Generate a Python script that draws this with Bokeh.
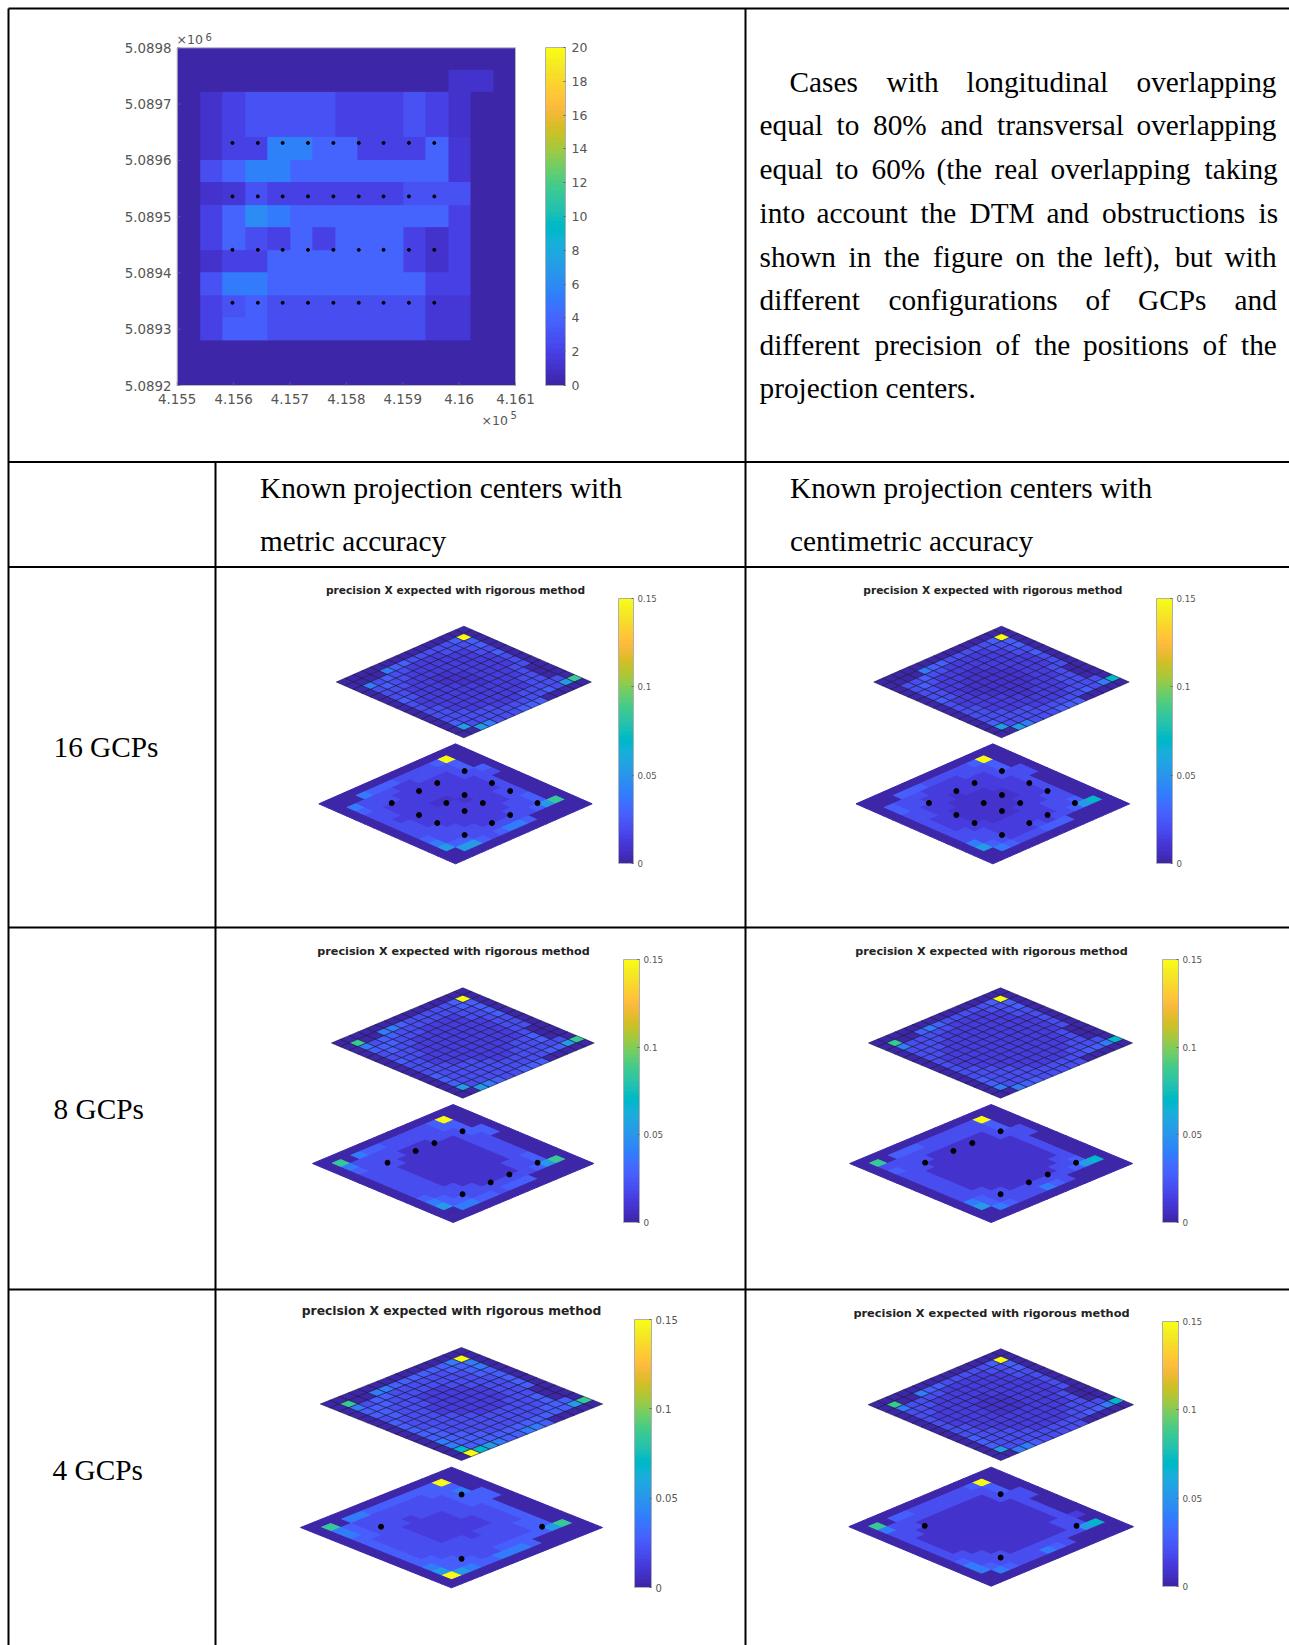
from bokeh.plotting import figure
from bokeh.embed import file_html
from bokeh.resources import INLINE
from bokeh.core.properties import value
from bokeh.models import (Range1d, ColumnDataSource, LinearColorMapper, ColorBar, FixedTicker)
import numpy as np

# ---------- data ----------
HEAT_X_LIMITS = [415500, 416100]
HEAT_Y_LIMITS = [5089200, 5089800]
# overlap counts, top row first
HEAT_ROWS = [
    [0,0,0,0,0,0,0,0,0,0,0,0,0,0,0],
    [0,0,0,0,0,0,0,0,0,0,0,0,1,1,0],
    [0,1,2,3,3,3,3,2,2,2,3,2,1,0,0],
    [0,1,2,3,3,3,3,2,2,2,3,2,1,0,0],
    [0,1,2,2,5.5,5.5,4,4,2,2,2,4,1.5,0,0],
    [0,2.5,4,5.5,5.5,4,4,4,4,4,4,4,1.5,0,0],
    [0,1,1.5,3,2,2,2,2,2,2,3,3,3,0,0],
    [0,2,4,6,5,4,4,4,4,4,4,4,2,0,0],
    [0,2,4,2.5,2,4,2,4,4,4,2,1,2,0,0],
    [0,1,2,2,4,4,4,4,4,4,2,1,2,0,0],
    [0,3,5,5,4,4,4,4,4,4,4,2,2,0,0],
    [0,2,3,3.5,2.5,2.5,2.5,2.5,2.5,2.5,2.5,1.5,1.5,0,0],
    [0,2,3.5,3.5,2.5,2.5,2.5,2.5,2.5,2.5,2.5,1.5,1.5,0,0],
    [0,0,0,0,0,0,0,0,0,0,0,0,0,0,0],
    [0,0,0,0,0,0,0,0,0,0,0,0,0,0,0],
]
HEAT_DOT_X = [415598, 415643, 415687, 415732, 415777, 415822, 415866, 415911, 415956]
HEAT_DOT_Y = [5089631, 5089536, 5089441, 5089347]
HEAT_X_TICKS = [415500, 415600, 415700, 415800, 415900, 416000, 416100]
HEAT_X_LABELS = ["4.155", "4.156", "4.157", "4.158", "4.159", "4.16", "4.161"]
HEAT_Y_TICKS = [5089200, 5089300, 5089400, 5089500, 5089600, 5089700, 5089800]
HEAT_Y_LABELS = ["5.0892", "5.0893", "5.0894", "5.0895", "5.0896", "5.0897", "5.0898"]
HEAT_CBAR_TICKS = [0, 2, 4, 6, 8, 10, 12, 14, 16, 18, 20]

# precision classes used by the iso-grids below
LEVELS = [0.001, 0.008, 0.014, 0.021, 0.028, 0.038, 0.052, 0.068, 0.085, 0.15]

A1_TOP = ["000000000000080","094434333000360","043332223333330","033222222233340","033222222222330",
          "032222222222334","032222111222234","032221112222234","042221122222233","043222222222333",
          "053322222222333","004332222223335","003433322333336","005333433333460","000000000000000"]
A1_BOT = ["000000000000000","000043000000800","094433333344600","043332223333400","033222222233300",
          "033222222223340","033222212222350","032222122222350","042222122222340","043222222223330",
          "043322222233340","053322222333460","003333233333460","005433333345600","000000000000000"]
B1_TOP = ["000000000000070","094434333000350","043332223333330","033222222233340","032222222222330",
          "032222111222234","032221111122234","032211111112234","042211111122233","043221111222333",
          "053222112222333","004322222223335","003433322333336","003333433333460","000000000000000"]
B1_BOT = ["000000000000000","000033000000700","094433333334600","043332222333400","033222222233300",
          "033222112222340","032221111222240","032221111122340","032211111122230","042221111122230",
          "043222111222230","043322222233340","003333222333450","004433333335600","000000000000000"]
A2_TOP = ["000000000000080","094444333000360","044333333344340","033332222233340","033222222233330",
          "033222222223334","033222222222334","033222222222334","043322222223333","053322222233333",
          "054332222233334","004433322333335","003443333333336","085433433344460","000000000000000"]
A2_BOT = ["000000000000000","000044000000800","094443333344600","044333333333400","033311111133300",
          "033311111111340","033111111111340","033111111111340","033111111111330","043311111113340",
          "043331111133340","053333333333450","003333333334450","085433333345600","000000000000000"]
B2_TOP = ["000000000000070","094433333000350","043332222333340","033222222223340","032222222222330",
          "032222222222233","032222222222233","032222222222233","043222222222233","053222222222333",
          "043322222223334","003332222233334","003333222333335","085333333334450","000000000000000"]
B2_BOT = ["000000000000000","000033000000700","094433333334600","033331111133400","033111111113300",
          "033111111111330","033111111111340","033111111111350","033111111111330","043111111111330",
          "043311111113330","043331111133340","003333333334450","083433333335600","000000000000000"]
A3_TOP = ["000000000000080","095544444000460","054443333344440","044333333333440","043333222333340",
          "043332222233344","043322222233345","043322222233345","043322222333344","053333223333344",
          "054333333333445","004433333334446","003444333444447","085443444445579","000000000000000"]
A3_BOT = ["000000000000000","000044000000800","094544444444600","044444333344400","044333333333400",
          "043333322333440","043332222333450","043332222233450","043322222333350","043332222333340",
          "053333333333440","053333333334450","004443333344460","085544444445690","000000000000000"]
B3_TOP = ["000000000000070","094433333000350","043332222333340","033222222223340","032222222222330",
          "032222222222233","032222111222233","032221111222233","042222111222233","043222222222333",
          "053222222223334","003322222233335","003332223333335","085333333344460","000000000000000"]
B3_BOT = ["000000000000000","000033000020700","094433333333600","043331111133300","033111111111300",
          "033111111111330","033111111111340","033111111111350","033111111111330","033111111111330",
          "043111111113330","043311111133340","003331111333450","085333333345500","000000000000000"]

GCP_A_16 = [3.9, 6.9, 8.9, 11.9]
GCP_A_8 = [3.9, 11.9]
GCP_B_FULL = [2.9, 5.9, 7.9, 10.9]
GCP_B_4 = [2.9, 10.9]

PARA_LINES = [
    (81.3, [("Cases", 789), ("with", 886), ("longitudinal", 966), ("overlapping", 1136)]),
    (124.6, [("equal", 759), ("to", 836), ("80%", 872.5), ("and", 940), ("transversal", 996.5), ("overlapping", 1136)]),
    (168.9, [("equal", 759), ("to", 835), ("60%", 871), ("(the", 936), ("real", 994), ("overlapping", 1050), ("taking", 1204)]),
    (212.6, [("into", 759), ("account", 816), ("the", 920), ("DTM", 969), ("and", 1046), ("obstructions", 1101.5), ("is", 1258)]),
    (256.6, [("shown", 759), ("in", 848), ("the", 883.5), ("figure", 932.5), ("on", 1015), ("the", 1056.5), ("left),", 1103.5), ("but", 1174.5), ("with", 1224)]),
    (299.6, [("different", 759), ("configurations", 888), ("of", 1085), ("GCPs", 1137.5), ("and", 1234)]),
    (344.6, [("different", 759), ("precision", 874), ("of", 995), ("the", 1034), ("positions", 1082.5), ("of", 1202), ("the", 1240.5)]),
    (387.6, [("projection", 759), ("centers.", 885)]),
]
HEADERS = [(259.5, 487.5, "Known projection centers with"), (259.5, 540.8, "metric accuracy"),
           (789.5, 487.5, "Known projection centers with"), (789.5, 540.8, "centimetric accuracy")]
ROW_LABELS = [(53, 746.5, "16 GCPs"), (53, 1108.5, "8 GCPs"), (52, 1469.5, "4 GCPs")]
TITLE = "precision X expected with rigorous method"

# ---------- colours ----------
PARULA_RGB = [
(0.2422,0.1504,0.6603),(0.2504,0.1650,0.7076),(0.2578,0.1818,0.7511),(0.2647,0.1978,0.7952),(0.2706,0.2147,0.8364),
(0.2751,0.2342,0.8710),(0.2783,0.2559,0.8991),(0.2803,0.2782,0.9221),(0.2813,0.3006,0.9414),(0.2810,0.3228,0.9579),
(0.2795,0.3447,0.9717),(0.2760,0.3667,0.9829),(0.2699,0.3892,0.9906),(0.2602,0.4123,0.9952),(0.2440,0.4358,0.9988),
(0.2206,0.4603,0.9973),(0.1963,0.4847,0.9892),(0.1834,0.5074,0.9798),(0.1786,0.5289,0.9682),(0.1764,0.5499,0.9520),
(0.1687,0.5703,0.9359),(0.1540,0.5902,0.9218),(0.1460,0.6091,0.9079),(0.1380,0.6276,0.8973),(0.1248,0.6459,0.8883),
(0.1113,0.6635,0.8763),(0.0952,0.6798,0.8598),(0.0689,0.6948,0.8394),(0.0297,0.7082,0.8163),(0.0036,0.7203,0.7917),
(0.0067,0.7312,0.7660),(0.0433,0.7411,0.7394),(0.0964,0.7500,0.7120),(0.1408,0.7584,0.6842),(0.1717,0.7670,0.6554),
(0.1938,0.7758,0.6251),(0.2161,0.7843,0.5923),(0.2470,0.7918,0.5567),(0.2906,0.7973,0.5188),(0.3406,0.8008,0.4789),
(0.3909,0.8029,0.4354),(0.4456,0.8024,0.3909),(0.5044,0.7993,0.3480),(0.5616,0.7942,0.3045),(0.6174,0.7876,0.2612),
(0.6720,0.7793,0.2227),(0.7242,0.7698,0.1910),(0.7738,0.7598,0.1646),(0.8203,0.7498,0.1535),(0.8634,0.7406,0.1596),
(0.9035,0.7330,0.1774),(0.9393,0.7288,0.2100),(0.9728,0.7309,0.2394),(0.9956,0.7434,0.2371),(0.9970,0.7659,0.2199),
(0.9952,0.7893,0.2028),(0.9892,0.8136,0.1885),(0.9786,0.8386,0.1766),(0.9676,0.8639,0.1643),(0.9610,0.8890,0.1537),
(0.9597,0.9135,0.1423),(0.9628,0.9373,0.1265),(0.9691,0.9606,0.1064),(0.9769,0.9839,0.0805)]
PARULA = ["#%02x%02x%02x" % tuple(int(round(c * 255)) for c in rgb) for rgb in PARULA_RGB]

# ---------- page ----------
W, H = 1289, 1645
p = figure(width=W, height=H, output_backend="svg", toolbar_location=None,
           x_range=Range1d(0, W), y_range=Range1d(H, 0), min_border=0,
           outline_line_color=None, background_fill_color="white")
p.axis.visible = False
p.grid.visible = False

# table rules
h_rules = [(8, W, 8), (8, W, 461.5), (8, W, 566.5), (8, W, 927), (8, W, 1289)]
v_rules = [(8, 8, H), (215, 461.5, H), (745, 8, H)]
p.segment(x0=[r[0] for r in h_rules], x1=[r[1] for r in h_rules], y0=[r[2] for r in h_rules], y1=[r[2] for r in h_rules],
          line_color="black", line_width=2)
p.segment(x0=[r[0] for r in v_rules], x1=[r[0] for r in v_rules], y0=[r[1] for r in v_rules], y1=[r[2] for r in v_rules],
          line_color="black", line_width=2)

SERIF = value("Liberation Serif")
def serif_text(xs, ys, texts, size="29.3px"):
    p.text(x=xs, y=ys, text=texts, text_font=SERIF, text_font_size=size, text_color="black",
           text_baseline="alphabetic", text_align="left")

for y, words in PARA_LINES:
    serif_text([w[1] for w in words], [y] * len(words), [w[0] for w in words])
serif_text([h[0] for h in HEADERS], [h[1] for h in HEADERS], [h[2] for h in HEADERS])
serif_text([r[0] for r in ROW_LABELS], [r[1] for r in ROW_LABELS], [r[2] for r in ROW_LABELS])

# ---------- top-left heat map, on its own ranges ----------
GREY = "#555555"
SANS = value("DejaVu Sans")
px_l, px_r, px_t, px_b = 176.7, 515.0, 47.3, 385.0
sx = (HEAT_X_LIMITS[1] - HEAT_X_LIMITS[0]) / (px_r - px_l)
sy = (HEAT_Y_LIMITS[1] - HEAT_Y_LIMITS[0]) / (px_b - px_t)
p.extra_x_ranges["hx"] = Range1d(HEAT_X_LIMITS[0] - px_l * sx, HEAT_X_LIMITS[1] + (W - px_r) * sx)
p.extra_y_ranges["hy"] = Range1d(HEAT_Y_LIMITS[0] - (H - px_b) * sy, HEAT_Y_LIMITS[1] + px_t * sy)
heat_mapper = LinearColorMapper(palette=PARULA, low=0, high=20)
p.image(image=[np.array(HEAT_ROWS[::-1], dtype=float)], x=HEAT_X_LIMITS[0], y=HEAT_Y_LIMITS[0],
        dw=HEAT_X_LIMITS[1] - HEAT_X_LIMITS[0], dh=HEAT_Y_LIMITS[1] - HEAT_Y_LIMITS[0],
        color_mapper=heat_mapper, x_range_name="hx", y_range_name="hy")
p.quad(left=[HEAT_X_LIMITS[0]], right=[HEAT_X_LIMITS[1]], top=[HEAT_Y_LIMITS[1]], bottom=[HEAT_Y_LIMITS[0]],
       fill_color=None, line_color="#b8b8b8", line_width=1, x_range_name="hx", y_range_name="hy")
dxs = [x for _ in HEAT_DOT_Y for x in HEAT_DOT_X]
dys = [y for y in HEAT_DOT_Y for _ in HEAT_DOT_X]
p.scatter(x=dxs, y=dys, size=3, color="black", x_range_name="hx", y_range_name="hy")
p.text(x=HEAT_X_TICKS, y=[HEAT_Y_LIMITS[0] - 15] * 7, text=HEAT_X_LABELS, text_font=SANS, text_font_size="13.4px",
       text_color=GREY, text_align="center", text_baseline="top", x_range_name="hx", y_range_name="hy")
p.text(x=[HEAT_X_LIMITS[0] - 10] * 7, y=HEAT_Y_TICKS, text=HEAT_Y_LABELS, text_font=SANS, text_font_size="13.4px",
       text_color=GREY, text_align="right", text_baseline="middle", x_range_name="hx", y_range_name="hy")
p.segment(x0=HEAT_X_TICKS, x1=HEAT_X_TICKS, y0=[HEAT_Y_LIMITS[0]] * 7, y1=[HEAT_Y_LIMITS[0] + 6] * 7,
          line_color="#777777", line_width=0.6, x_range_name="hx", y_range_name="hy")
p.segment(x0=[HEAT_X_LIMITS[0]] * 7, x1=[HEAT_X_LIMITS[0] + 6] * 7, y0=HEAT_Y_TICKS, y1=HEAT_Y_TICKS,
          line_color="#777777", line_width=0.6, x_range_name="hx", y_range_name="hy")
# exponent marks
p.text(x=[176, 481], y=[39, 420], text=["\u00d710", "\u00d710"], text_font=SANS, text_font_size="12.5px", text_color=GREY,
       text_baseline="alphabetic")
p.text(x=[205, 510], y=[36, 414], text=["6", "5"], text_font=SANS, text_font_size="10px", text_color=GREY,
       text_baseline="alphabetic")

def colorbar(mapper, ticks, labels, x0, x1, y0, y1, size, standoff=4):
    bar = ColorBar(color_mapper=mapper, ticker=FixedTicker(ticks=ticks),
                   major_label_overrides=labels,
                   location=(round(x0), round(H - y1)), width=int(round(x1 - x0)), height=int(round(y1 - y0)),
                   padding=0, margin=0,
                   background_fill_alpha=0, border_line_color=None, bar_line_color="#b0b0b0", bar_line_width=1,
                   major_tick_line_color="#666666", major_tick_in=2, major_tick_out=0, minor_tick_line_color=None,
                   major_label_text_font="DejaVu Sans", major_label_text_font_size=size,
                   major_label_text_color=GREY, label_standoff=standoff, scale_alpha=1)
    p.add_layout(bar, "center")

colorbar(heat_mapper, HEAT_CBAR_TICKS, {t: str(t) for t in HEAT_CBAR_TICKS}, 545.3, 565.7, 46.7, 385, "12.5px", 6)

# ---------- iso panels ----------
iso_mapper = LinearColorMapper(palette=PARULA, low=0, high=0.15)
ISO_TICKS = [0, 0.05, 0.1, 0.15]

def cell_polys(grid, left, right, top_x, y_top, y_bot):
    hx = (right - left) / 30.0
    hy = (y_bot - y_top) / 30.0
    xs, ys, vals = [], [], []
    for b, row in enumerate(grid):
        for a, ch in enumerate(row):
            corner = [(a, b), (a + 1, b), (a + 1, b + 1), (a, b + 1)]
            xs.append([top_x + (i - j) * hx for i, j in corner])
            ys.append([y_top + (i + j) * hy for i, j in corner])
            vals.append(LEVELS[int(ch)])
    return xs, ys, vals

PANELS = [
    dict(top=A1_TOP, bot=A1_BOT, ox=300, oy=570, t=(110, 875, 490, 167, 502), b=(55, 875, 465, 520, 880),
         cb=(955, 1000, 82, 878), title=(465, 60, 10.65), lab="8.6px", ga=GCP_A_16, gb=GCP_B_FULL),
    dict(top=B1_TOP, bot=B1_BOT, ox=840, oy=570, t=(102, 868, 483, 167, 502), b=(47, 868, 457, 520, 880),
         cb=(948, 995, 82, 878), title=(457, 60, 10.65), lab="8.6px", ga=GCP_A_16, gb=GCP_B_FULL),
    dict(top=A2_TOP, bot=A2_BOT, ox=300, oy=930, t=(93, 881, 487, 172, 503), b=(37, 881, 458, 522, 876),
         cb=(968, 1016, 88, 877), title=(459, 63, 11.2), lab="8.8px", ga=GCP_A_8, gb=GCP_B_FULL),
    dict(top=B2_TOP, bot=B2_BOT, ox=840, oy=930, t=(85, 877, 480, 172, 503), b=(28, 877, 452, 522, 876),
         cb=(965, 1013, 88, 877), title=(453, 63, 11.2), lab="8.8px", ga=GCP_A_8, gb=GCP_B_FULL),
    dict(top=A3_TOP, bot=A3_BOT, ox=290, oy=1295, t=(90, 937, 513, 156, 495), b=(30, 936, 483, 515, 877),
         cb=(1033, 1085, 72, 877), title=(483, 45, 12.3), lab="10px", ga=GCP_A_8, gb=GCP_B_4),
    dict(top=B3_TOP, bot=B3_BOT, ox=840, oy=1295, t=(83, 879, 481, 160, 495), b=(25, 879, 452, 515, 872),
         cb=(967, 1014, 77, 873), title=(453, 52, 11.35), lab="8.8px", ga=GCP_A_8, gb=GCP_B_4),
]

for P in PANELS:
    zx = lambda v: P["ox"] + v / 3.0
    zy = lambda v: P["oy"] + v / 3.0
    cm = {"field": "v", "transform": iso_mapper}
    # upper surface with dark edges
    l, r, tx, yt, yb = P["t"]
    xs, ys, vals = cell_polys(P["top"], zx(l), zx(r), zx(tx), zy(yt), zy(yb))
    p.patches(xs="xs", ys="ys", source=ColumnDataSource(dict(xs=xs, ys=ys, v=vals)), fill_color=cm,
              line_color="#14143c", line_width=0.8, line_alpha=0.75)
    # lower flat image
    l, r, tx, yt, yb = P["b"]
    xs, ys, vals = cell_polys(P["bot"], zx(l), zx(r), zx(tx), zy(yt), zy(yb))
    p.patches(xs="xs", ys="ys", source=ColumnDataSource(dict(xs=xs, ys=ys, v=vals)), fill_color=cm,
              line_color=cm, line_width=1)
    hx = (zx(r) - zx(l)) / 30.0
    hy = (zy(yb) - zy(yt)) / 30.0
    gx = [zx(tx) + (a - b) * hx for a in P["ga"] for b in P["gb"]]
    gy = [zy(yt) + (a + b) * hy for a in P["ga"] for b in P["gb"]]
    p.scatter(x=gx, y=gy, size=5, color="black")
    # title
    tx0, ty0, ts = P["title"]
    p.text(x=[zx(tx0)], y=[zy(ty0)], text=[TITLE], text_font=value("DejaVu Sans"), text_font_style="bold",
           text_font_size=f"{ts}px", text_color="#222222", text_align="center", text_baseline="alphabetic")
    cx0, cx1, cy0, cy1 = P["cb"]
    colorbar(iso_mapper, ISO_TICKS, {0: "0", 0.05: "0.05", 0.1: "0.1", 0.15: "0.15"},
             zx(cx0), zx(cx1), zy(cy0), zy(cy1), P["lab"])

open("out.html", "w").write(file_html(p, INLINE))
